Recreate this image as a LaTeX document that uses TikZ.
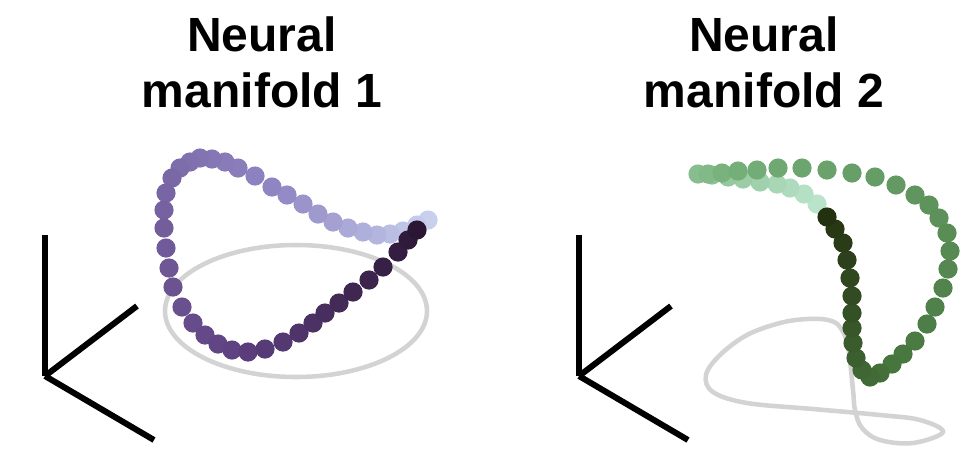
\documentclass[tikz,border=0pt]{standalone}
\usepackage{fontspec}
\setmainfont{Liberation Sans}

\definecolor{pur0}{HTML}{C9D0EE}
\definecolor{pur1}{HTML}{8F85C2}
\definecolor{pur2}{HTML}{5E4080}
\definecolor{pur3}{HTML}{2B1633}
\definecolor{grn0}{HTML}{B9E4CA}
\definecolor{grn1}{HTML}{74AE78}
\definecolor{grn2}{HTML}{46733C}
\definecolor{grn3}{HTML}{243110}
\definecolor{tracegray}{HTML}{D3D3D3}

\newcommand{\dotcolor}[2]{%
  \ifnum#2<25\relax
    \pgfmathtruncatemacro\mixpc{4*#2}\colorlet{dotc}{#11!\mixpc!#10}%
  \else\ifnum#2<70\relax
    \pgfmathtruncatemacro\mixpc{(#2-25)*100/45}\colorlet{dotc}{#12!\mixpc!#11}%
  \else
    \pgfmathtruncatemacro\mixpc{(#2-70)*100/30}\colorlet{dotc}{#13!\mixpc!#12}%
  \fi\fi}

\tikzset{
  title/.style={font=\bfseries\fontsize{36}{42}\selectfont, align=center, inner sep=0pt, anchor=north},
  axisline/.style={line width=4.5pt},
  trace/.style={draw=tracegray, line width=3.4pt}
}

\begin{document}
\begin{tikzpicture}[x=0.75pt,y=-0.75pt]
    \useasboundingbox (0,0) rectangle (974,462);
    \node[title] (title1) at (262,16) {Neural\\manifold 1};
    \node[title] (title2) at (764,16) {Neural\\manifold 2};
    \foreach \ox in {45,579}{
        \coordinate (o) at (\ox,376);
        \draw[axisline] (o) -- ++(0,-141);
        \draw[axisline] (o) -- ++(92,-70);
        \draw[axisline] (o) -- ++(109,64);
    }
    \draw[trace] (296,311) ellipse [x radius=98.25pt, y radius=49.5pt];
    \draw[trace] plot[smooth cycle, tension=0.6] coordinates {(828,320) (807,319) (780,323) (747,335) (720,355) (706,375) (713,392) (747,403) (813,409) (880,415) (920,420) (943,432) (913,443) (880,440) (862,428) (855,410) (853,390) (848,347) (840,327)};
    \foreach \px/\py [count=\i] in {428/220,417/225,403/231,390/234,377/235,363/232,348/228,333/222,318/214,303/204,287/195,272/187,255/176,238/168,225/162,212/159,200/158,190/162,180/168,172/178,166/193,164/210,164/228,166/248,169/268,173/287,182/307,193/323,205/335,218/344,232/350,248/352,265/349,283/342,299/333,313/323,325/313,339/303,353/292,369/280,383/267,398/252,408/240,417/230}{
        \pgfmathtruncatemacro\pc{(\i-1)*100/43}
        \dotcolor{pur}{\pc}
        \fill[dotc] (\px,\py) circle[radius=7.2pt];
    }
    \foreach \px/\py [count=\i] in {817/204,804/194,790/188,777/184,760/182,743/179,728/177,712/175,698/174,708/174,722/173,738/171,757/170,778/168,802/168,827/170,852/173,875/177,896/185,915/195,929/205,939/218,947/233,950/251,948/269,943/288,935/307,927/324,915/341,903/354,892/364,880/373,870/377,862/370,856/358,853/343,852/328,852/313,852/296,850/278,847/260,843/243,835/229,827/217}{
        \pgfmathtruncatemacro\pc{(\i-1)*100/43}
        \dotcolor{grn}{\pc}
        \fill[dotc] (\px,\py) circle[radius=7.2pt];
    }
\end{tikzpicture}
\end{document}
